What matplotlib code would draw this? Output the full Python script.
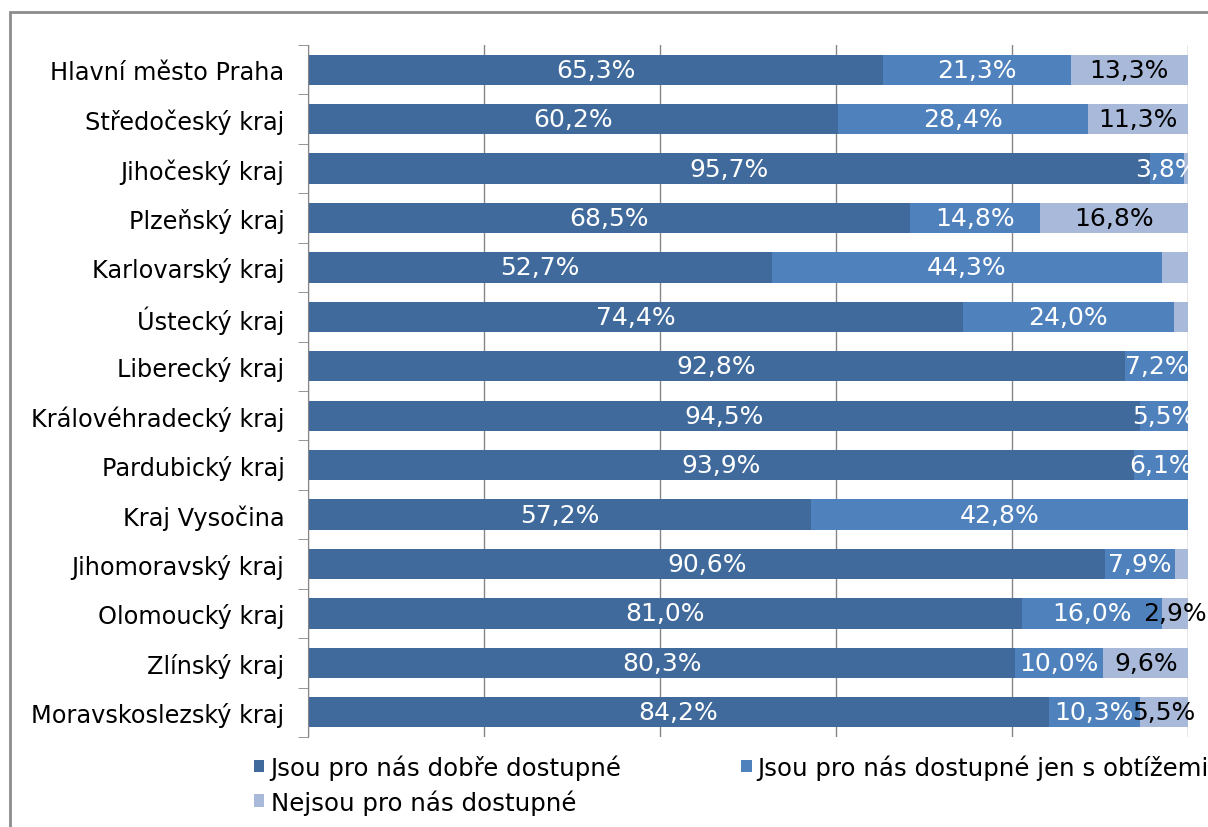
import matplotlib.pyplot as plt
from matplotlib.patches import Rectangle

plt.rcParams['font.family'] = ['DejaVu Sans']
plt.rcParams['font.size'] = 17.3

regions = ["Hlavní město Praha", "Středočeský kraj", "Jihočeský kraj", "Plzeňský kraj",
           "Karlovarský kraj", "Ústecký kraj", "Liberecký kraj", "Královéhradecký kraj",
           "Pardubický kraj", "Kraj Vysočina", "Jihomoravský kraj", "Olomoucký kraj",
           "Zlínský kraj", "Moravskoslezský kraj"]

good = [65.3, 60.2, 95.7, 68.5, 52.7, 74.4, 92.8, 94.5, 93.9, 57.2, 90.6, 81.0, 80.3, 84.2]
hard = [21.3, 28.4, 3.8, 14.8, 44.3, 24.0, 7.2, 5.5, 6.1, 42.8, 7.9, 16.0, 10.0, 10.3]
none = [13.3, 11.3, 0.5, 16.8, 3.0, 1.6, 0.0, 0.0, 0.0, 0.0, 1.5, 2.9, 9.6, 5.5]
# which labels of the third series are printed in the original
none_shown = [True, True, False, True, False, False, False, False, False, False, False, True, True, True]

series_names = ["Jsou pro nás dobře dostupné", "Jsou pro nás dostupné jen s obtížemi",
                "Nejsou pro nás dostupné"]
colors = ["#3F6A9B", "#4F81BD", "#A8B9DA"]
label_colors = ["white", "white", "black"]


def fmt(v):
    return f"{v:.1f}".replace(".", ",") + "%"


def main():
    fig = plt.figure(figsize=(12.08, 8.28), dpi=100)
    W, H = 1208, 828
    ax = fig.add_axes([308 / W, 1 - 738 / H, 880 / W, (738 - 46) / H])

    n = len(regions)
    y = list(range(n))
    totals = [a + b + c for a, b, c in zip(good, hard, none)]
    data = [good, hard, none]
    left = [0.0] * n
    handles = []
    for k, vals in enumerate(data):
        widths = [v / t * 100 for v, t in zip(vals, totals)]
        bars = ax.barh(y, widths, left=left, height=0.61, color=colors[k], zorder=3,
                       label=series_names[k])
        handles.append(bars)
        for i in range(n):
            if vals[i] <= 0:
                continue
            if k == 2 and not none_shown[i]:
                continue
            if k == 1 and vals[i] < 3:
                continue
            cx = left[i] + widths[i] / 2
            ax.text(cx, y[i], fmt(vals[i]), ha='center', va='center',
                    color=label_colors[k], fontsize=18, zorder=5, clip_on=False)
        left = [l + w for l, w in zip(left, widths)]

    ax.set_xlim(0, 100)
    ax.set_ylim(n - 0.5, -0.5)
    ax.set_yticks(y)
    ax.set_yticklabels(regions)
    ax.set_yticks([i - 0.5 for i in range(n + 1)], minor=True)
    ax.tick_params(axis='y', which='major', length=0, pad=17)
    ax.tick_params(axis='y', which='minor', length=7, color='#868686', direction='out')
    ax.set_xticks([0, 20, 40, 60, 80, 100])
    ax.set_xticklabels([])
    ax.tick_params(axis='x', length=0)
    ax.grid(axis='x', color='#868686', linewidth=1.0, zorder=0)
    for s in ['top', 'right', 'bottom']:
        ax.spines[s].set_visible(False)
    ax.spines['left'].set_color('#868686')
    ax.spines['left'].set_zorder(4)

    fig.legend([handles[0], handles[2], handles[1]],
               [series_names[0], series_names[2], series_names[1]],
               ncol=2, loc='upper left', bbox_to_anchor=(242 / W, 1 - 743 / H),
               frameon=False, handlelength=0.42, handleheight=0.42, handletextpad=0.25,
               columnspacing=4.9, labelspacing=0.38, fontsize=17.6, borderpad=0)

    fig.patches.append(Rectangle((10 / W, -0.1), 1.2, 1 - 13 / H + 0.1, transform=fig.transFigure,
                                 fill=False, edgecolor='#8C8C8C', linewidth=2, zorder=0))

    fig.savefig("out.png", dpi=100)


if __name__ == "__main__": main()
